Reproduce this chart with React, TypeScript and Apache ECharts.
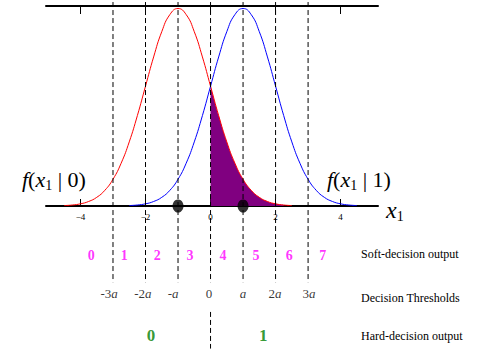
import React, { useEffect, useRef } from "react";
import * as echarts from "echarts";

// Conditional densities f(x1|0) (red, mean -a) and f(x1|1) (blue, mean +a), a = 1
const redX = [-4.5, -4.25, -4, -3.75, -3.5, -3.25, -3, -2.75, -2.5, -2.25, -2, -1.75, -1.5, -1.25, -1, -0.75, -0.5, -0.25, 0, 0.25, 0.5, 0.75, 1, 1.25, 1.5, 1.75, 2, 2.25, 2.5];
const redY = [0.0009, 0.002, 0.0044, 0.0091, 0.0175, 0.0317, 0.054, 0.0863, 0.1295, 0.1826, 0.242, 0.3011, 0.3521, 0.3867, 0.3989, 0.3867, 0.3521, 0.3011, 0.242, 0.1826, 0.1295, 0.0863, 0.054, 0.0317, 0.0175, 0.0091, 0.0044, 0.002, 0.0009];
const blueX = [-2.5, -2.25, -2, -1.75, -1.5, -1.25, -1, -0.75, -0.5, -0.25, 0, 0.25, 0.5, 0.75, 1, 1.25, 1.5, 1.75, 2, 2.25, 2.5, 2.75, 3, 3.25, 3.5, 3.75, 4, 4.25, 4.5];
const blueY = [0.0009, 0.002, 0.0044, 0.0091, 0.0175, 0.0317, 0.054, 0.0863, 0.1295, 0.1826, 0.242, 0.3011, 0.3521, 0.3867, 0.3989, 0.3867, 0.3521, 0.3011, 0.242, 0.1826, 0.1295, 0.0863, 0.054, 0.0317, 0.0175, 0.0091, 0.0044, 0.002, 0.0009];
// Shaded error region: tail of f(x1|0) beyond the 0 threshold
const purpleX = [0, 0.25, 0.5, 0.75, 1, 1.25, 1.5, 1.75, 2, 2.25];
const purpleY = [0.242, 0.1826, 0.1295, 0.0863, 0.054, 0.0317, 0.0175, 0.0091, 0.0044, 0.002];

const axisTickValues = [-4, -2, 0, 2, 4];
const thresholds = [-3, -2, -1, 0, 1, 2, 3];
const signalPoints = [-1, 1];

const softLabels = ["0", "1", "2", "3", "4", "5", "6", "7"];
const softLabelX = [-3.67, -2.65, -1.64, -0.63, 0.38, 1.4, 2.42, 3.45];
const thresholdLabels = ["-3{a|a}", "-2{a|a}", "-{a|a}", "0", "{a|a}", "2{a|a}", "3{a|a}"];
const thresholdLabelX = [-3.12, -2.08, -1.15, -0.05, 1.0, 1.98, 3.03];
const hardLabels = ["0", "1"];
const hardLabelX = [-1.83, 1.62];

// vertical levels (data units on the hidden y axis, extrapolated below the plot)
const SOFT_Y = -0.1;
const THRESH_Y = -0.176;
const HARD_Y = -0.262;
const DASH_TOP = 0.412;
const DASH_BOTTOM = -0.154;
const ZERO_LOW_TOP = -0.214;
const ZERO_LOW_BOTTOM = -0.288;

const SERIF = "Liberation Serif";

export default function App() {
  const ref = useRef<HTMLDivElement>(null);

  useEffect(() => {
    if (!ref.current) return;
    const chart = echarts.init(ref.current, null, { renderer: "svg" });

    const dashStyle = { color: "#000", width: 1, type: [5, 3] as any };
    const dashSeries: any[] = thresholds.map((t) => ({
      type: "line",
      data: [
        [t, DASH_TOP],
        [t, DASH_BOTTOM],
      ],
      symbol: "none",
      clip: false,
      silent: true,
      lineStyle: dashStyle,
      z: 4,
    }));
    dashSeries.push({
      type: "line",
      data: [
        [0, ZERO_LOW_TOP],
        [0, ZERO_LOW_BOTTOM],
      ],
      symbol: "none",
      clip: false,
      silent: true,
      lineStyle: dashStyle,
      z: 4,
    });

    const labelSeries = (
      xs: number[],
      names: string[],
      y: number,
      label: any
    ) => ({
      type: "scatter",
      data: xs.map((x, i) => ({ value: [x, y], name: names[i] })),
      symbolSize: 1,
      itemStyle: { color: "transparent" },
      silent: true,
      clip: false,
      z: 6,
      label: { show: true, position: "inside", formatter: "{b}", ...label },
    });

    const subRich = (size: number, sub: number, lh: number) => ({
      i: { fontStyle: "italic", fontSize: size, fontFamily: SERIF, lineHeight: lh, color: "#000" },
      n: { fontSize: size, fontFamily: SERIF, lineHeight: lh, color: "#000" },
      s: { fontSize: sub, fontFamily: SERIF, verticalAlign: "bottom", lineHeight: lh, color: "#000" },
    });

    const option: any = {
      animation: false,
      grid: { left: 46, right: 100, top: 6, bottom: 150, containLabel: false },
      xAxis: [
        {
          type: "value",
          min: -5.06,
          max: 5.15,
          position: "bottom",
          axisLine: { onZero: false, lineStyle: { color: "#000", width: 2 } },
          axisTick: {
            inside: true,
            length: 7,
            customValues: axisTickValues,
            lineStyle: { color: "#000", width: 1 },
          },
          axisLabel: {
            customValues: axisTickValues,
            margin: 6,
            fontSize: 9,
            fontFamily: SERIF,
            color: "#000",
            formatter: (v: number) => (v < 0 ? "\u2212" + -v : String(v)),
          },
          splitLine: { show: false },
        },
        {
          type: "value",
          min: -5.06,
          max: 5.15,
          position: "top",
          axisLine: { onZero: false, lineStyle: { color: "#000", width: 2 } },
          axisTick: {
            inside: true,
            length: 8,
            customValues: axisTickValues,
            lineStyle: { color: "#000", width: 1 },
          },
          axisLabel: { show: false },
          splitLine: { show: false },
        },
      ],
      yAxis: {
        type: "value",
        min: 0,
        max: 0.404,
        show: false,
        splitLine: { show: false },
      },
      series: [
        {
          type: "line",
          data: purpleX.map((x, i) => [x, purpleY[i]]),
          symbol: "none",
          smooth: true,
          lineStyle: { width: 0, opacity: 0 },
          areaStyle: { color: "#800080", opacity: 1 },
          z: 1,
        },
        {
          type: "line",
          data: redX.map((x, i) => [x, redY[i]]),
          symbol: "none",
          smooth: true,
          lineStyle: { color: "#ff0000", width: 1 },
          z: 2,
        },
        {
          type: "line",
          data: blueX.map((x, i) => [x, blueY[i]]),
          symbol: "none",
          smooth: true,
          lineStyle: { color: "#0000ff", width: 1 },
          z: 3,
        },
        ...dashSeries,
        {
          type: "scatter",
          data: signalPoints.map((x) => [x, 0]),
          symbol: "circle",
          symbolSize: [11, 13],
          itemStyle: { color: "#000" },
          silent: true,
          clip: false,
          z: 5,
        },
        labelSeries(softLabelX, softLabels, SOFT_Y, {
          color: "#ff00ff",
          fontWeight: "bold",
          fontSize: 14,
          fontFamily: SERIF,
        }),
        labelSeries(thresholdLabelX, thresholdLabels, THRESH_Y, {
          color: "#000",
          fontSize: 13,
          fontFamily: SERIF,
          rich: {
            a: { fontStyle: "italic", fontSize: 13, fontFamily: SERIF, color: "#000" },
          },
        }),
        labelSeries(hardLabelX, hardLabels, HARD_Y, {
          color: "#008000",
          fontWeight: "bold",
          fontSize: 17,
          fontFamily: SERIF,
        }),
      ],
      graphic: [
        {
          type: "text",
          x: 22,
          y: 179,
          silent: true,
          style: {
            text: "{i|f}{n|(}{i|x}{s|1}{n| | 0)}",
            fontSize: 22,
            fontFamily: SERIF,
            fill: "#000",
            verticalAlign: "middle",
            rich: subRich(22, 14, 26),
          },
        },
        {
          type: "text",
          x: 327,
          y: 179,
          silent: true,
          style: {
            text: "{i|f}{n|(}{i|x}{s|1}{n| | 1)}",
            fontSize: 22,
            fontFamily: SERIF,
            fill: "#000",
            verticalAlign: "middle",
            rich: subRich(22, 14, 26),
          },
        },
        {
          type: "text",
          x: 386,
          y: 210,
          silent: true,
          style: {
            text: "{i|x}{s|1}",
            fontSize: 24,
            fontFamily: SERIF,
            fill: "#000",
            verticalAlign: "middle",
            rich: subRich(24, 14, 26),
          },
        },
        {
          type: "text",
          x: 361,
          y: 254,
          silent: true,
          style: { text: "Soft-decision output", fontSize: 12, fontFamily: SERIF, fill: "#000", verticalAlign: "middle" },
        },
        {
          type: "text",
          x: 361,
          y: 298,
          silent: true,
          style: { text: "Decision Thresholds", fontSize: 12, fontFamily: SERIF, fill: "#000", verticalAlign: "middle" },
        },
        {
          type: "text",
          x: 361,
          y: 336,
          silent: true,
          style: { text: "Hard-decision output", fontSize: 12, fontFamily: SERIF, fill: "#000", verticalAlign: "middle" },
        },
      ],
    };

    chart.setOption(option);
    return () => chart.dispose();
  }, []);

  return (
    <div
      ref={ref}
      style={{ position: "fixed", left: 0, top: 0, width: 478, height: 356, background: "#fff" }}
    />
  );
}
